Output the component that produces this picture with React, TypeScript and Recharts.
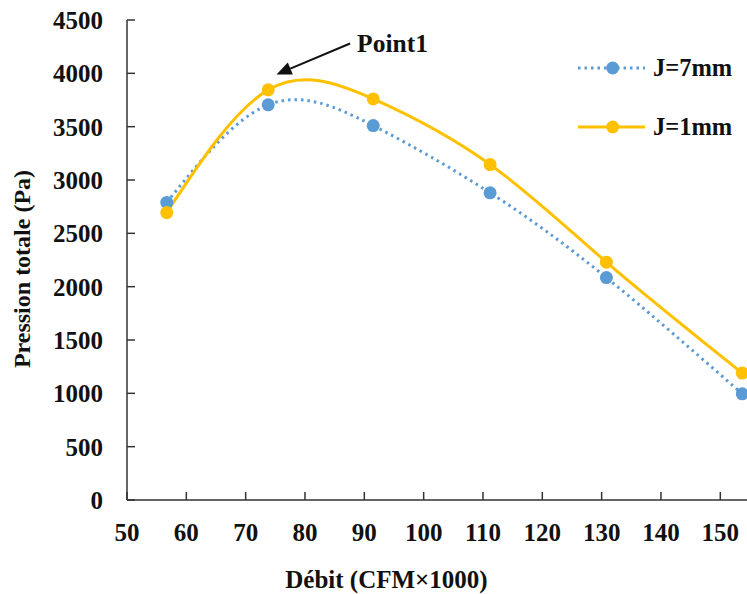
import React from 'react';
import { LineChart, Line, XAxis, YAxis, ReferenceLine, Legend } from 'recharts';

const flow = [56.7, 73.8, 91.5, 111.2, 130.8, 153.7];
const j7 = [2790, 3705, 3510, 2880, 2085, 995];
const j1 = [2695, 3845, 3760, 3145, 2230, 1190];
const xTicks = [50, 60, 70, 80, 90, 100, 110, 120, 130, 140, 150];
const yTicks = [0, 500, 1000, 1500, 2000, 2500, 3000, 3500, 4000, 4500];
const seriesNames = ['J=7mm', 'J=1mm'];
const annotationText = 'Point1';
const annotationFrom = { x: 87.6, y: 4280 };
const annotationTo = { x: 75.2, y: 3990 };

const data = flow.map((f, i) => ({ flow: f, j7: j7[i], j1: j1[i] }));

const BLUE = '#5B9BD5';
const YELLOW = '#FFC000';
const FONT = "'Liberation Serif', 'Times New Roman', serif";
const TEXT = '#111';

const xTickStyle = { fontFamily: FONT, fontWeight: 700, fontSize: 25, fill: TEXT };
const yTickStyle = { fontFamily: FONT, fontWeight: 700, fontSize: 25, fill: TEXT };

const ArrowShape = (props: any) => {
  const { x1, y1, x2, y2 } = props;
  const dx = x2 - x1;
  const dy = y2 - y1;
  const len = Math.sqrt(dx * dx + dy * dy) || 1;
  const ux = dx / len;
  const uy = dy / len;
  const headLen = 15;
  const headW = 6.5;
  const bx = x2 - ux * headLen;
  const by = y2 - uy * headLen;
  const px = -uy;
  const py = ux;
  return (
    <g>
      <line x1={x1} y1={y1} x2={bx} y2={by} stroke="#111" strokeWidth={2} />
      <polygon
        points={`${x2},${y2} ${bx + px * headW},${by + py * headW} ${bx - px * headW},${by - py * headW}`}
        fill="#111"
      />
      <text
        x={x1 + 7}
        y={y1}
        dominantBaseline="central"
        fontFamily={FONT}
        fontWeight={700}
        fontSize={25.5}
        fill={TEXT}
      >
        {annotationText}
      </text>
    </g>
  );
};

const LegendContent = () => {
  const rows = [
    { name: seriesNames[0], color: BLUE, dashed: true },
    { name: seriesNames[1], color: YELLOW, dashed: false },
  ];
  return (
    <div>
      {rows.map((r, i) => (
        <div
          key={r.name}
          style={{ display: 'flex', alignItems: 'center', height: 30, marginBottom: i === 0 ? 29 : 0 }}
        >
          <svg width={70} height={30} style={{ display: 'block' }}>
            <line
              x1={0}
              y1={15}
              x2={67}
              y2={15}
              stroke={r.color}
              strokeWidth={3}
              strokeDasharray={r.dashed ? '2.5 4' : undefined}
            />
            <circle cx={34.7} cy={15} r={6.5} fill={r.color} />
          </svg>
          <span
            style={{
              fontFamily: FONT,
              fontWeight: 700,
              fontSize: 24.5,
              color: TEXT,
              marginLeft: 5,
              lineHeight: '30px',
              whiteSpace: 'nowrap',
            }}
          >
            {r.name}
          </span>
        </div>
      ))}
    </div>
  );
};

export default function App() {
  return (
    <div style={{ position: 'absolute', left: 0, top: 0, width: 747, height: 594, overflow: 'hidden', background: '#fff' }}>
      <LineChart width={747} height={594} data={data} margin={{ top: 20, right: 0, left: 0, bottom: 0 }}>
        <XAxis
          dataKey="flow"
          type="number"
          domain={[50, 154.5]}
          ticks={xTicks}
          interval={0}
          tickSize={-8}
          tickMargin={31}
          height={94}
          tick={xTickStyle}
          axisLine={{ stroke: '#333', strokeWidth: 1.5 }}
          tickLine={{ stroke: '#333', strokeWidth: 1.5 }}
          label={{
            content: () => (
              <text
                x={386.5}
                y={579}
                textAnchor="middle"
                dominantBaseline="central"
                fontFamily={FONT}
                fontWeight={700}
                fontSize={25}
                fill={TEXT}
              >
                Débit (CFM×1000)
              </text>
            ),
          }}
        />
        <YAxis
          type="number"
          domain={[0, 4500]}
          ticks={yTicks}
          interval={0}
          width={127}
          tickSize={-8}
          tickMargin={32}
          tick={yTickStyle}
          axisLine={{ stroke: '#333', strokeWidth: 1.5 }}
          tickLine={{ stroke: '#333', strokeWidth: 1.5 }}
          label={{
            content: () => (
              <text
                x={22}
                y={269}
                transform="rotate(-90 22 269)"
                textAnchor="middle"
                dominantBaseline="central"
                fontFamily={FONT}
                fontWeight={700}
                fontSize={24}
                fill={TEXT}
              >
                Pression totale (Pa)
              </text>
            ),
          }}
        />
        <Legend
          layout="horizontal"
          verticalAlign="middle"
          align="center"
          wrapperStyle={{ left: 578, top: 53, width: 170 }}
          content={() => <LegendContent />}
        />
        <ReferenceLine
          segment={[annotationFrom, annotationTo]}
          ifOverflow="visible"
          shape={ArrowShape}
        />
        <Line
          dataKey="j7"
          name={seriesNames[0]}
          type="natural"
          stroke={BLUE}
          strokeWidth={3}
          strokeDasharray="2.5 4"
          dot={{ r: 6.5, fill: BLUE, stroke: BLUE, strokeWidth: 0, strokeDasharray: 'none' }}
          activeDot={false}
          isAnimationActive={false}
        />
        <Line
          dataKey="j1"
          name={seriesNames[1]}
          type="natural"
          stroke={YELLOW}
          strokeWidth={3}
          dot={{ r: 6.5, fill: YELLOW, stroke: YELLOW, strokeWidth: 0 }}
          activeDot={false}
          isAnimationActive={false}
        />
      </LineChart>
    </div>
  );
}
